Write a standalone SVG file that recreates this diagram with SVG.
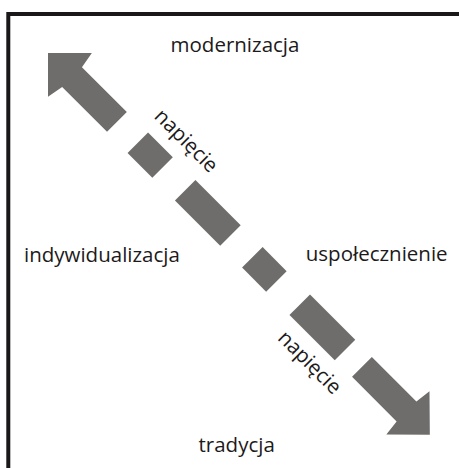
<svg xmlns="http://www.w3.org/2000/svg" width="459" height="468" viewBox="0 0 459 468">
<style>
.lbl{font-family:"Open Sans","Noto Sans","Liberation Sans",sans-serif;font-size:20.5px;fill:#1c1a1a}
.seg{fill:#6e6d6b}
</style>
<rect x="0" y="0" width="459" height="468" fill="#ffffff"/>
<path id="frame" d="M8.3 470 V14 H462" fill="none" stroke="#1a1818" stroke-width="4"/>
<g id="connectors">
<g transform="translate(48,53) rotate(45)">
<polygon class="seg" points="0,0 31,-31 34,-14 97.5,-14 97.5,14 34,14 31,31"/>
<rect class="seg" x="127" y="-14.5" width="35" height="29"/>
<rect class="seg" x="194" y="-14.5" width="64" height="29"/>
<rect class="seg" x="289" y="-14.5" width="34" height="29"/>
<rect class="seg" x="356" y="-14.5" width="64" height="29"/>
<polygon class="seg" points="540,0 509,-30.5 507,-14 444,-14 444,14 507,14 509,30.5"/>
<text class="lbl" x="120" y="-29">napięcie</text>
<text class="lbl" x="364" y="40.5">napięcie</text>
</g>
</g>
<g id="node-modernizacja"><text class="lbl" x="235" y="51.7" text-anchor="middle">modernizacja</text></g>
<g id="node-indywidualizacja"><text class="lbl" x="24" y="261.7">indywidualizacja</text></g>
<g id="node-uspolecznienie"><text class="lbl" x="376.7" y="261.2" text-anchor="middle">uspołecznienie</text></g>
<g id="node-tradycja"><text class="lbl" x="236.7" y="451.7" text-anchor="middle">tradycja</text></g>
</svg>
